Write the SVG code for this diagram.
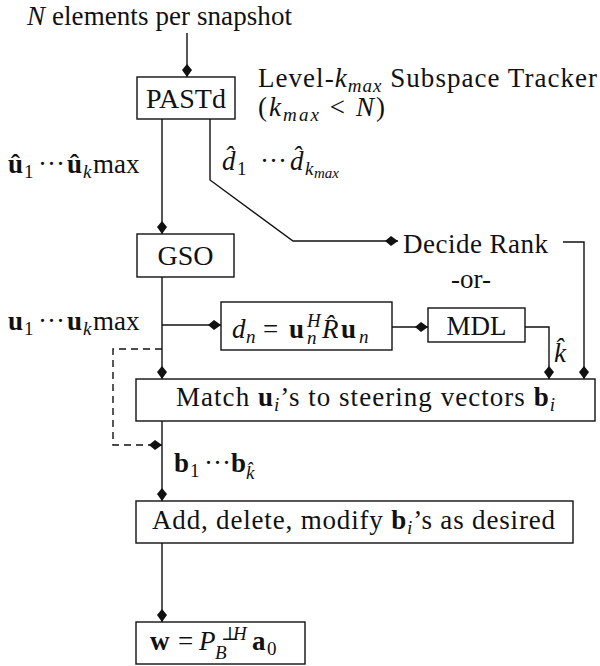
<svg xmlns="http://www.w3.org/2000/svg" width="600" height="666" viewBox="0 0 600 666">
<defs>
<style>
text{font-family:"Liberation Serif","DejaVu Serif",serif;font-size:27px;fill:#111}
.box{fill:#fff;stroke:#111;stroke-width:1.4}
.ln{fill:none;stroke:#111;stroke-width:1.4}
.dash{stroke-dasharray:7,5}
.it{font-style:italic}
.b{font-weight:bold}
.s{font-size:19px}
.ss{font-size:15px}
.n{font-size:28px}
</style>
<marker id="ah" markerUnits="userSpaceOnUse" markerWidth="15" markerHeight="12" viewBox="-14 -6 15 12" refX="0" refY="0" orient="auto">
<path d="M0,0 L-7,-5 L-13,0 L-7,5 Z" fill="#111"/>
</marker>
</defs>
<rect width="600" height="666" fill="#fff"/>

<g id="labels">
<text x="27" y="25" textLength="265"><tspan class="it">N</tspan> elements per snapshot</text>
<text x="258" y="87" textLength="339">Level-<tspan class="it">k</tspan><tspan class="it s" dy="5">max</tspan><tspan dy="-5"> Subspace Tracker</tspan></text>
<text x="258" y="116" textLength="127">(<tspan class="it">k</tspan><tspan class="it s" dy="5">max</tspan><tspan dy="-5"> &lt; </tspan><tspan class="it">N</tspan>)</text>
<text x="8" y="173"><tspan class="b">û</tspan><tspan class="s" x="24" dy="5">1</tspan><tspan x="38 47 56" dy="-5">···</tspan><tspan class="b" x="67">û</tspan><tspan class="it s" x="83" dy="5">k</tspan><tspan x="93" dy="-5">max</tspan></text>
<text x="222" y="170"><tspan class="it">d̂</tspan><tspan class="s" x="237" dy="5">1</tspan><tspan x="260 269 278" dy="-5">···</tspan><tspan class="it" x="290">d̂</tspan><tspan class="it s" x="305" dy="5">k</tspan><tspan class="it ss" x="314" dy="3">max</tspan></text>
<text x="8" y="330"><tspan class="b">u</tspan><tspan class="s" x="24" dy="5">1</tspan><tspan x="38 47 56" dy="-5">···</tspan><tspan class="b" x="67">u</tspan><tspan class="it s" x="83" dy="5">k</tspan><tspan x="93" dy="-5">max</tspan></text>
<text x="174" y="472"><tspan class="b">b</tspan><tspan class="s" x="190" dy="5">1</tspan><tspan x="204 213 222" dy="-5">···</tspan><tspan class="b" x="231">b</tspan><tspan class="it s" x="246" dy="7">k̂</tspan></text>
<text x="554" y="362" class="it">k̂</text>
</g>

<g id="decide">
<text x="403" y="253" textLength="145">Decide Rank</text>
<text x="471" y="288" font-size="24" text-anchor="middle">-or-</text>
</g>

<g id="pastd">
<rect class="box" x="137" y="77" width="98" height="42"/>
<text class="n" x="186" y="108" text-anchor="middle">PASTd</text>
</g>

<g id="gso">
<rect class="box" x="137" y="234" width="97" height="43"/>
<text class="n" x="185.5" y="265" text-anchor="middle">GSO</text>
</g>

<g id="dn">
<rect class="box" x="221" y="302" width="171" height="48"/>
<text x="232" y="338"><tspan class="it">d</tspan><tspan class="it s" x="246" dy="5">n</tspan><tspan x="263" dy="-5">=</tspan><tspan class="b" x="289">u</tspan><tspan class="it s" x="307" dy="-11">H</tspan><tspan class="it s" x="307" dy="17">n</tspan><tspan class="it" x="322" dy="-6">R̂</tspan><tspan class="b" x="341">u</tspan><tspan class="it s" x="359" dy="5">n</tspan></text>
</g>

<g id="mdl">
<rect class="box" x="428" y="308" width="97" height="34"/>
<text x="476.5" y="335" text-anchor="middle">MDL</text>
</g>

<g id="match">
<rect class="box" x="136" y="379" width="459" height="42"/>
<text x="176" y="406" textLength="379">Match <tspan class="b">u</tspan><tspan class="it s" dy="5">i</tspan><tspan dy="-5">’s to steering vectors </tspan><tspan class="b">b</tspan><tspan class="it s" dy="5">i</tspan></text>
</g>

<g id="add">
<rect class="box" x="136" y="501" width="437" height="42"/>
<text x="152" y="529" textLength="403">Add, delete, modify <tspan class="b">b</tspan><tspan class="it s" dy="5">i</tspan><tspan dy="-5">’s as desired</tspan></text>
</g>

<g id="w">
<rect class="box" x="136" y="622" width="169" height="42"/>
<text x="150" y="650"><tspan class="b">w</tspan><tspan x="178">=</tspan><tspan class="it" x="199">P</tspan><tspan class="s" x="221" dy="-10">⊥</tspan><tspan class="it s" x="233">H</tspan><tspan class="b" x="252" dy="10">a</tspan><tspan class="s" x="267" dy="5">0</tspan></text>
<text x="215" y="659" class="it s">B</text>
</g>

<g id="connectors">
<path class="ln" d="M187,33 V77" marker-end="url(#ah)"/>
<path class="ln" d="M162,119 V234" marker-end="url(#ah)"/>
<path class="ln" d="M210,119 V180 L293,241 H398" marker-end="url(#ah)"/>
<path class="ln" d="M563,242 H584 V379" marker-end="url(#ah)"/>
<path class="ln" d="M162,277 V379" marker-end="url(#ah)"/>
<path class="ln" d="M162,325 H221" marker-end="url(#ah)"/>
<path class="ln" d="M392,327 H428" marker-end="url(#ah)"/>
<path class="ln" d="M525,327 H549 V379" marker-end="url(#ah)"/>
<path class="ln dash" d="M162,349 H113 V445 H162" marker-end="url(#ah)"/>
<path class="ln" d="M162,421 V501" marker-end="url(#ah)"/>
<path class="ln" d="M162,543 V622" marker-end="url(#ah)"/>
</g>
</svg>
